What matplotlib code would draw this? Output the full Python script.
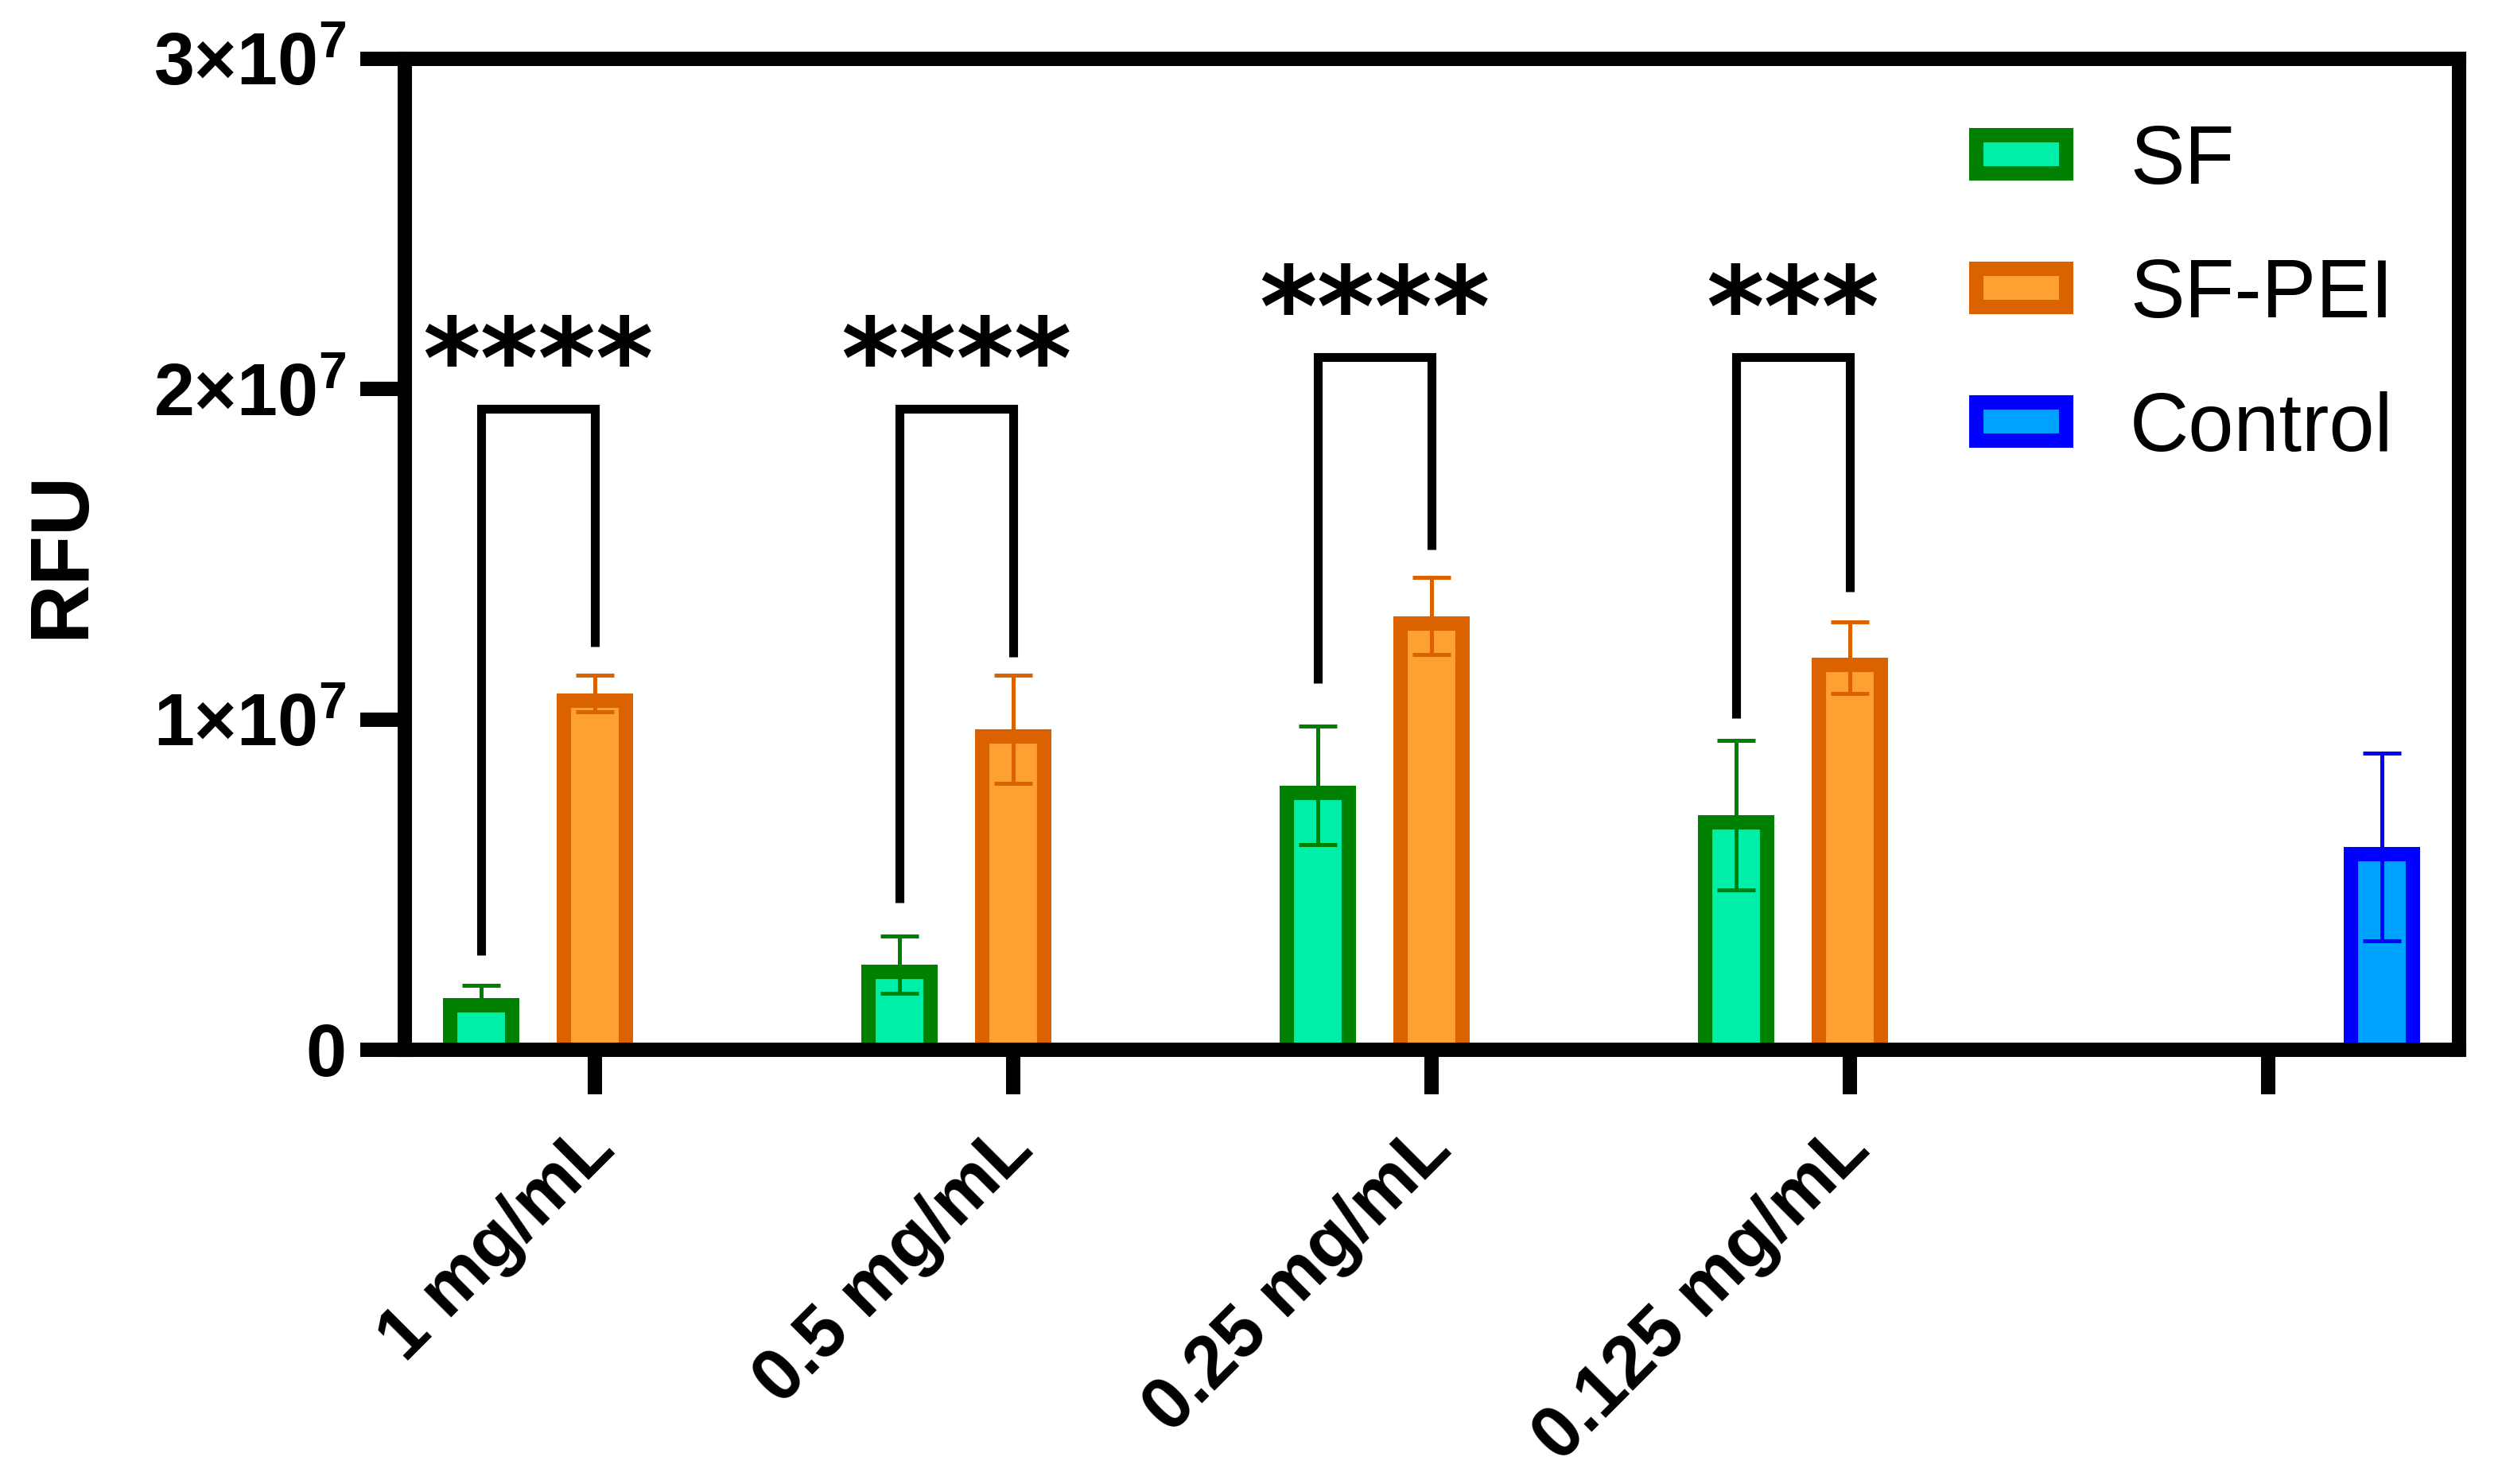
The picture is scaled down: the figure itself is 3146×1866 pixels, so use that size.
import numpy as np
import matplotlib
matplotlib.use("Agg")
import matplotlib.pyplot as plt
from matplotlib.patches import Patch
from matplotlib.transforms import ScaledTranslation, TransformedPatchPath

# ---------------- data ----------------
categories = ["1 mg/mL", "0.5 mg/mL", "0.25 mg/mL", "0.125 mg/mL", ""]
sf_mean = [1.57e6, 2.58e6, 8.00e6, 7.11e6]
sf_err = [0.37e6, 0.86e6, 1.80e6, 2.26e6]
pei_mean = [10.79e6, 9.71e6, 13.13e6, 11.87e6]
pei_err = [0.55e6, 1.64e6, 1.17e6, 1.08e6]
ctrl_mean = [6.14e6]
ctrl_err = [2.85e6]
series_names = ["SF", "SF-PEI", "Control"]
yticks = [0, 1e7, 2e7, 3e7]
ytick_labels = ["0", r"$\mathbf{1{\times}10^{7}}$", r"$\mathbf{2{\times}10^{7}}$", r"$\mathbf{3{\times}10^{7}}$"]
# significance brackets: group, left leg bottom, right leg bottom, bracket top, stars
sig_groups = [0, 1, 2, 3]
sig_left = [0.287e7, 0.445e7, 1.11e7, 1.005e7]
sig_right = [1.221e7, 1.19e7, 1.514e7, 1.388e7]
sig_top = [1.941e7, 1.941e7, 2.097e7, 2.097e7]
sig_text = ["****", "****", "****", "***"]

# ---------------- style ----------------
plt.rcParams["font.family"] = ["Liberation Sans", "DejaVu Sans"]
plt.rcParams["mathtext.fontset"] = "custom"
plt.rcParams["mathtext.rm"] = "Liberation Sans"
plt.rcParams["mathtext.bf"] = "Liberation Sans:bold"
plt.rcParams["mathtext.fallback"] = "stixsans"

sf_fill, sf_edge = "#00EFA8", "#008000"
pei_fill, pei_edge = "#FFA033", "#DA6300"
ct_fill, ct_edge = "#00A2FF", "#0000FF"

DPI = 200
fig = plt.figure(figsize=(3146 / DPI, 1866 / DPI), dpi=DPI)
ax = fig.add_axes([509 / 3146, 1 - 1320 / 1866, (3092 - 509) / 3146, (1320 - 74) / 1866])

group_x = np.arange(len(categories))
off = 0.272
bw = 0.183
pad = 0.06e7  # bars start slightly below zero so their bottom border hides under the axis

def draw_bars(xs, means, errs, fill, edge):
    means = np.asarray(means)
    bars = ax.bar(xs, means + pad, bottom=-pad, width=bw, color=fill,
                  edgecolor=edge, linewidth=13, zorder=2)
    for b in bars:
        b.set_clip_path(TransformedPatchPath(b))
    ax.errorbar(xs, means, yerr=errs, fmt="none", ecolor=edge, elinewidth=1.8,
                capsize=8.5, capthick=1.8, zorder=3)

draw_bars(group_x[:4] - off, sf_mean, sf_err, sf_fill, sf_edge)
draw_bars(group_x[:4], pei_mean, pei_err, pei_fill, pei_edge)
draw_bars(group_x[4:] + off, ctrl_mean, ctrl_err, ct_fill, ct_edge)

# significance brackets
for g, yl, yr, yt, s in zip(sig_groups, sig_left, sig_right, sig_top, sig_text):
    x1, x2 = group_x[g] - off, group_x[g]
    ax.plot([x1, x1, x2, x2], [yl, yt, yt, yr], color="black", lw=4,
            solid_joinstyle="miter", solid_capstyle="butt", zorder=4, clip_on=False)
    ax.annotate(s, ((x1 + x2) / 2, yt), xytext=(0, 19), textcoords="offset points",
                ha="center", va="center", fontsize=50, fontweight="bold",
                family="DejaVu Sans", annotation_clip=False)

ax.set_xlim(-0.454, 4.456)
ax.set_ylim(0, 3e7)

for sp in ax.spines.values():
    sp.set_linewidth(6.5)
    sp.set_color("black")

ax.set_yticks(yticks)
ax.set_yticklabels(ytick_labels)
ax.tick_params(axis="y", direction="out", length=20, width=6.5, pad=6.5,
               labelsize=33)
for t in ax.get_yticklabels():
    t.set_fontweight("bold")

ax.set_xticks(group_x)
ax.set_xticklabels(categories, rotation=45, ha="right", va="baseline",
                   rotation_mode="anchor", fontsize=33, fontweight="bold")
ax.tick_params(axis="x", direction="out", length=20, width=6.5, pad=26)
shift = ScaledTranslation(10 / 72, 0, fig.dpi_scale_trans)
for t in ax.get_xticklabels():
    t.set_transform(t.get_transform() + shift)

ax.set_ylabel("RFU", fontsize=37, fontweight="bold", va="center")
ax.yaxis.set_label_coords(-0.1665, 0.5)

handles = [Patch(facecolor=sf_fill, edgecolor=sf_edge, linewidth=6.5),
           Patch(facecolor=pei_fill, edgecolor=pei_edge, linewidth=6.5),
           Patch(facecolor=ct_fill, edgecolor=ct_edge, linewidth=6.5)]
leg = fig.legend(handles, series_names, loc="upper left",
                 bbox_to_anchor=(2485 / 3146, 1 - 156 / 1866),
                 frameon=False, fontsize=37, handlelength=1.10, handleheight=0.34,
                 handletextpad=0.78, labelspacing=0.69, borderpad=0, borderaxespad=0)

fig.savefig("out.png", dpi=DPI)
